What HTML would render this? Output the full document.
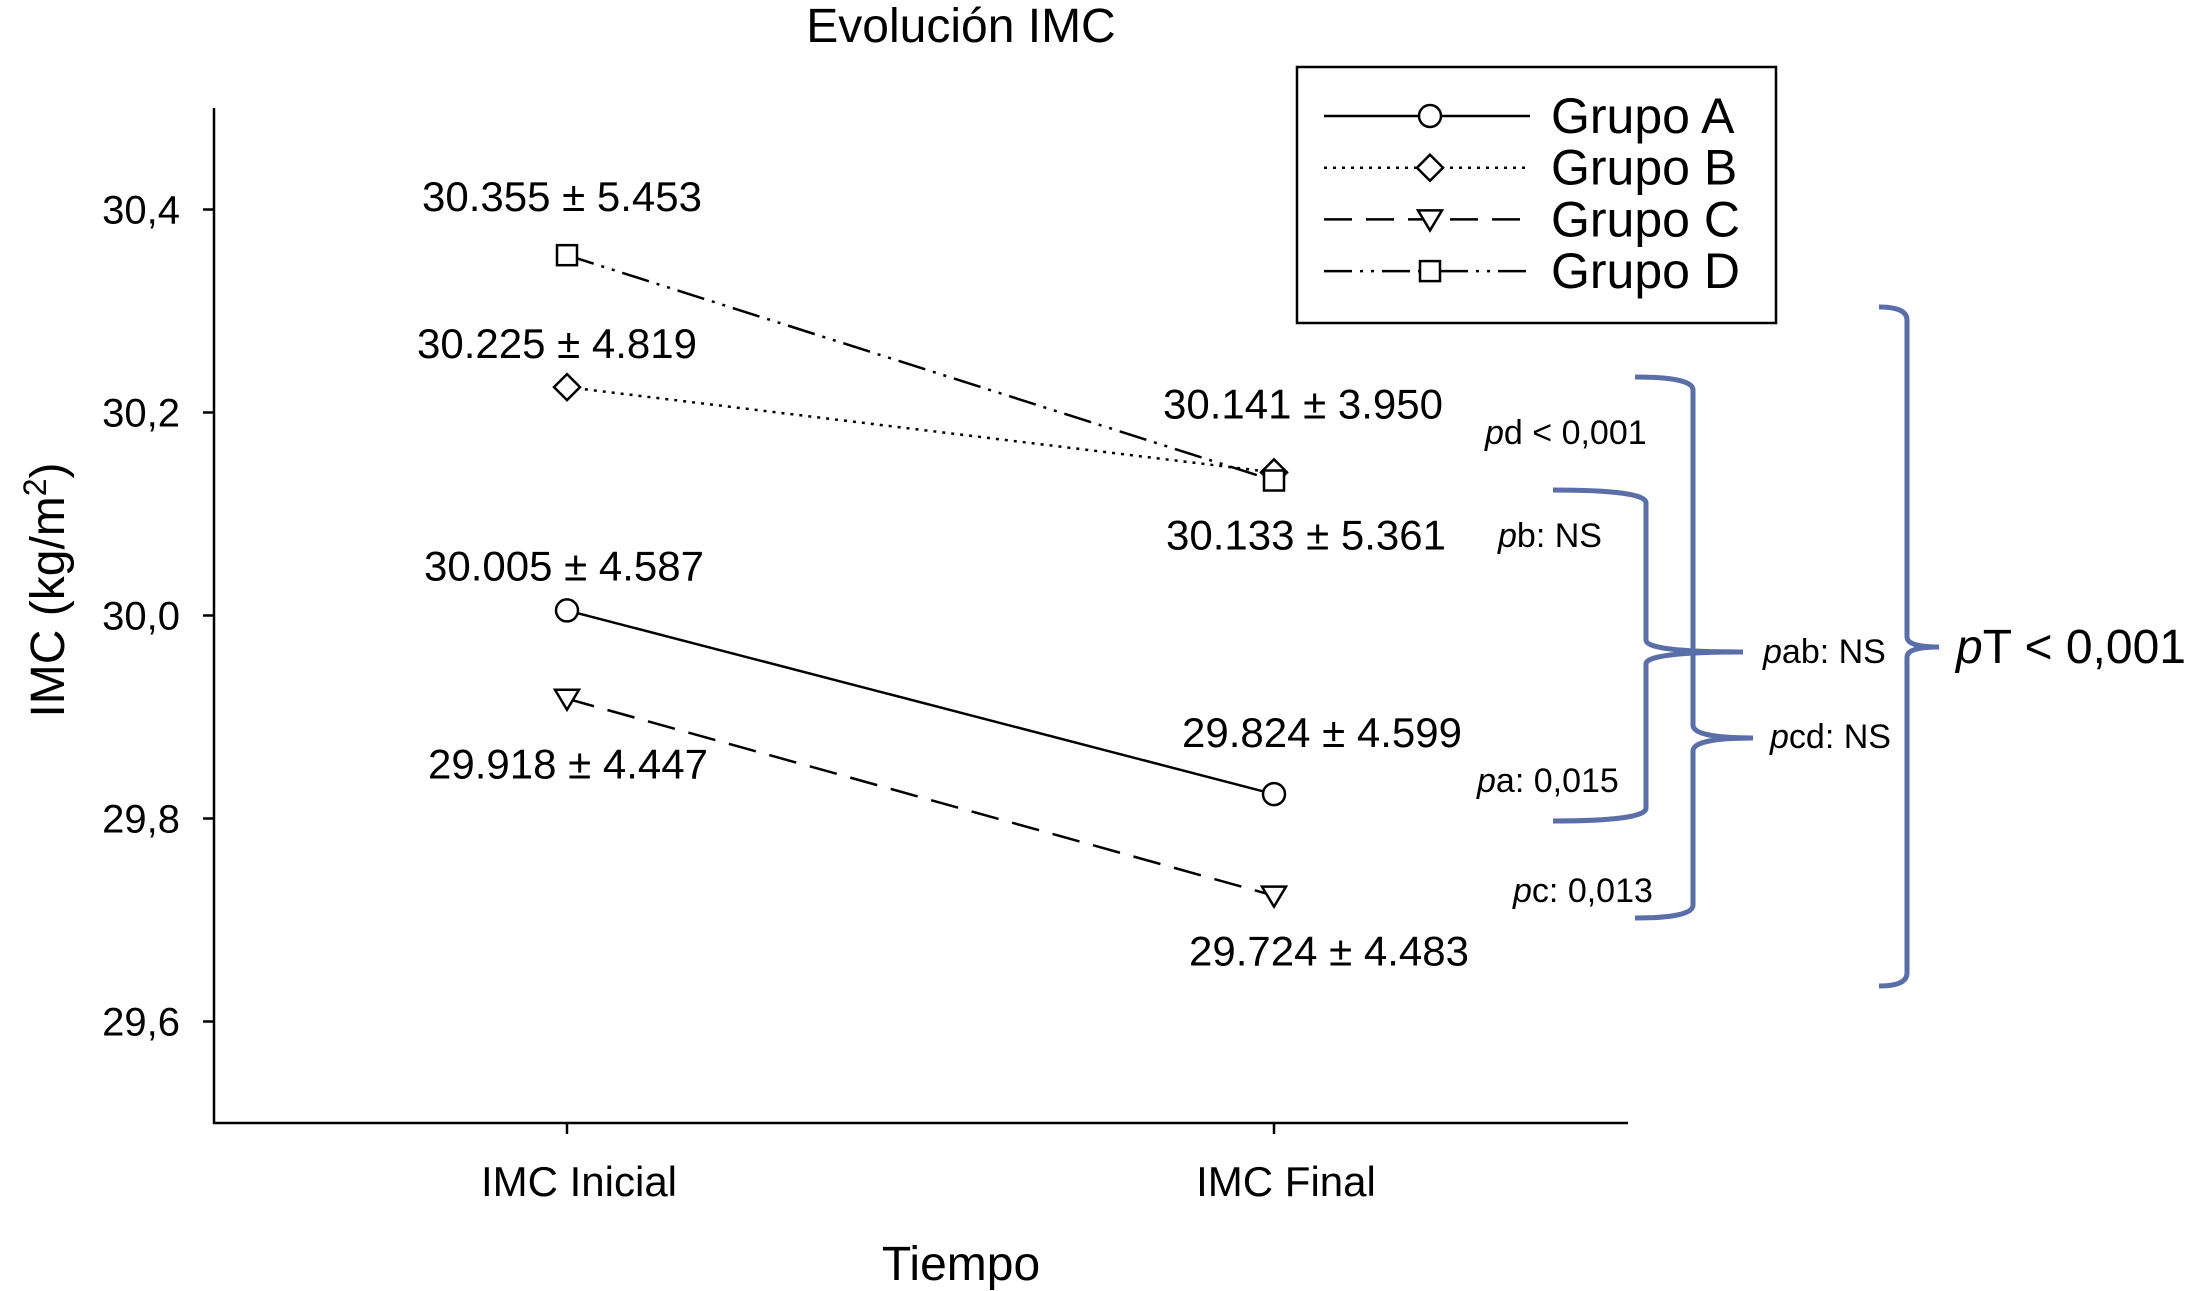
<!DOCTYPE html>
<html><head><meta charset="utf-8"><style>
html,body{margin:0;padding:0;background:#fff;}
svg{display:block;font-family:"Liberation Sans",sans-serif;}
</style></head><body>
<svg id="chart" width="2191" height="1291" viewBox="0 0 2191 1291" xmlns="http://www.w3.org/2000/svg">
<text x="961" y="42" font-size="48" text-anchor="middle">Evolución IMC</text>
<text transform="translate(64,590) rotate(-90)" font-size="48" text-anchor="middle">IMC (kg/m<tspan font-size="32" dy="-18">2</tspan><tspan dy="18">)</tspan></text>
<text x="961" y="1280" font-size="48" text-anchor="middle">Tiempo</text>
<g id="axes"></g>
<g id="series"></g>
<g id="labels"></g>
<g>
<rect x="1297" y="67" width="479" height="256" fill="#fff" stroke="#000" stroke-width="2.5"/>
<g id="legend"></g>
</g>
<g fill="none" stroke="#5a6ea8" stroke-width="5">
<path d="M1635,377 Q1693,377 1693,390 L1693,725 Q1693,738 1753,738 Q1693,738 1693,751 L1693,905 Q1693,918 1635,918"/>
<path d="M1553,490 Q1646,490 1646,503 L1646,640 Q1646,652 1743,652 Q1646,652 1646,664 L1646,808 Q1646,821 1553,821"/>
<path d="M1879,307 Q1907,307 1907,320 L1907,637 Q1907,647 1939,647 Q1907,647 1907,657 L1907,973 Q1907,986 1879,986"/>
</g>
<g font-size="34">
<text x="1485" y="444"><tspan font-style="italic">p</tspan>d &lt; 0,001</text>
<text x="1498" y="547"><tspan font-style="italic">p</tspan>b: NS</text>
<text x="1477" y="792"><tspan font-style="italic">p</tspan>a: 0,015</text>
<text x="1513" y="902"><tspan font-style="italic">p</tspan>c: 0,013</text>
<text x="1763" y="663"><tspan font-style="italic">p</tspan>ab: NS</text>
<text x="1770" y="748"><tspan font-style="italic">p</tspan>cd: NS</text>
<text x="1956" y="663" font-size="48"><tspan font-style="italic">p</tspan>T &lt; 0,001</text>
</g>
</svg>
<script>
const categories = ["IMC Inicial", "IMC Final"];
const groupNames = ["Grupo A", "Grupo B", "Grupo C", "Grupo D"];
const groupA = [30.005, 29.824];
const groupB = [30.225, 30.141];
const groupC = [29.918, 29.724];
const groupD = [30.355, 30.133];
const sdA = [4.587, 4.599];
const sdB = [4.819, 3.950];
const sdC = [4.447, 4.483];
const sdD = [5.453, 5.361];
const yTicks = [29.6, 29.8, 30.0, 30.2, 30.4];
const yTickLabels = ["29,6", "29,8", "30,0", "30,2", "30,4"];

const NS = "http://www.w3.org/2000/svg";
const yMin = 29.5, yMax = 30.5, yBottom = 1123, yTop = 108;
const xPos = i => 567 + i * 707;
const yScale = v => yBottom - (v - yMin) / (yMax - yMin) * (yBottom - yTop);
function mk(tag, attrs, parent) {
  const e = document.createElementNS(NS, tag);
  for (const k in attrs) e.setAttribute(k, attrs[k]);
  parent.appendChild(e);
  return e;
}
const axes = document.getElementById("axes");
const yAxisLine = mk("path", {d: "M214,108 L214,1123 L1628,1123", stroke: "#000", "stroke-width": 2.5, fill: "none"}, axes);


yTicks.forEach((t, i) => {
  const y = yScale(t);
  const tk = mk("line", {x1: 203, x2: 214, y1: y, y2: y, stroke: "#000", "stroke-width": 2.5}, axes);
  
  
  const lb = mk("text", {x: 180, y: y + 14, "font-size": 40, "text-anchor": "end"}, axes);
  lb.textContent = yTickLabels[i];
  
  
});
categories.forEach((c, i) => {
  const x = xPos(i);
  const tk = mk("line", {x1: x, x2: x, y1: 1123, y2: 1134, stroke: "#000", "stroke-width": 2.5}, axes);
  
  
  const lb = mk("text", {x: x + 12, y: 1196, "font-size": 42, "text-anchor": "middle"}, axes);
  lb.textContent = c;
  
  
});

const dashes = ["", "3,6", "28,14", "28,8,3,8,3,8"];
const markers = ["circle", "diamond", "triangle", "square"];
function marker(type, x, y, parent) {
  const s = 11;
  let e;
  if (type === "circle") e = mk("circle", {cx: x, cy: y, r: s}, parent);
  else if (type === "diamond") e = mk("path", {d: `M${x},${y-s-2} L${x+s+2},${y} L${x},${y+s+2} L${x-s-2},${y} Z`}, parent);
  else if (type === "triangle") e = mk("path", {d: `M${x-s-1},${y-s+2} L${x+s+1},${y-s+2} L${x},${y+s} Z`}, parent);
  else e = mk("rect", {x: x - s + 1, y: y - s + 1, width: 2 * s - 2, height: 2 * s - 2}, parent);
  e.setAttribute("fill", "#fff");
  e.setAttribute("stroke", "#000");
  e.setAttribute("stroke-width", 2.5);
  return e;
}
const series = [groupA, groupB, groupC, groupD];
const sds = [sdA, sdB, sdC, sdD];
const sg = document.getElementById("series");
series.forEach((vals, gi) => {
  const ln = mk("line", {x1: xPos(0), y1: yScale(vals[0]), x2: xPos(1), y2: yScale(vals[1]), stroke: "#000", "stroke-width": 2.5, "stroke-dasharray": dashes[gi]}, sg);
  
  
});
series.forEach((vals, gi) => {
  vals.forEach((v, i) => {
    const m = marker(markers[gi], xPos(i), yScale(v), sg);
    
    
  });
});
// label offsets relative to marker (layout only)
const offInit = [[-3, -30], [-10, -29], [1, 80], [-5, -44]];
const offFinal = [[48, -47], [29, -54], [55, 70], [32, 69]];
const lg = document.getElementById("labels");
series.forEach((vals, gi) => {
  vals.forEach((v, i) => {
    const o = i === 0 ? offInit[gi] : offFinal[gi];
    const t = mk("text", {x: xPos(i) + o[0], y: yScale(v) + o[1], "font-size": 42, "text-anchor": "middle"}, lg);
    t.textContent = v.toFixed(3) + " \u00b1 " + sds[gi][i].toFixed(3);
    
    
  });
});
const leg = document.getElementById("legend");
groupNames.forEach((n, gi) => {
  const y = 116 + gi * 51.7;
  const l = mk("line", {x1: 1324, x2: 1530, y1: y, y2: y, stroke: "#000", "stroke-width": 2.5, "stroke-dasharray": dashes[gi]}, leg);
  
  
  const m = marker(markers[gi], 1430, y, leg);
  
  
  const t = mk("text", {x: 1551, y: y + 17, "font-size": 50}, leg);
  t.textContent = n;
  
  
});
</script>
</body></html>
